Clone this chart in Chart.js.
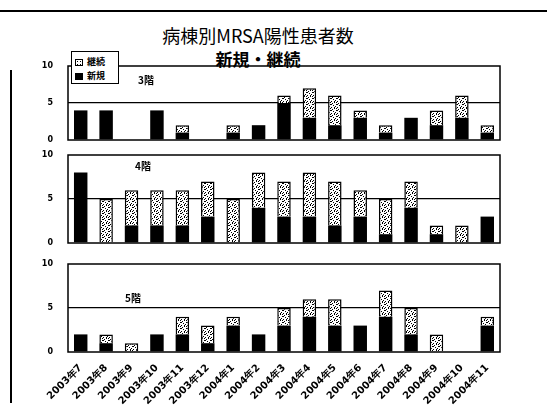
<!DOCTYPE html>
<html>
<head>
<meta charset="utf-8">
<script src="https://cdn.jsdelivr.net/npm/chart.js@4.4.1/dist/chart.umd.min.js"></script>
<style>
  body { margin: 0; background: #fff; }
  #page { position: relative; width: 547px; height: 411px; overflow: hidden; font-family: "Noto Sans CJK JP", sans-serif; }
  canvas { position: absolute; left: 0; }
  .rule-top { position: absolute; left: 0; top: 10px; width: 547px; height: 2px; background: #000; }
  .rule-left { position: absolute; left: 10px; top: 70px; width: 2px; height: 333px; background: #000; }
  .title { position: absolute; left: 0; width: 516px; text-align: center; color: #000; white-space: nowrap; }
  .panel-label { position: absolute; font-size: 10px; font-weight: bold; line-height: 12px; z-index: 2; }
  #legend { position: absolute; left: 71px; top: 51px; width: 46px; height: 31px; border: 1.5px solid #000; background: #fff; z-index: 3; font-size: 9px; font-weight: bold; line-height: 11px; }
  #legend div { position: absolute; left: 3px; white-space: nowrap; }
  #legend span.sw { display: inline-block; width: 8px; height: 7px; border: 1px solid #000; margin-right: 4px; vertical-align: -1px; box-sizing: border-box; }
</style>
</head>
<body>
<div id="page">
  <div class="rule-top"></div>
  <div class="rule-left"></div>
  <div class="title" style="top:22px; font-size:18px;">病棟別MRSA陽性患者数</div>
  <div class="title" style="top:46px; font-size:17px; font-weight:bold; width:516px;">新規・継続</div>

  <div id="legend">
    <div style="top:4px;"><span class="sw" style="background: radial-gradient(circle, #000 35%, transparent 40%) 0 0/3px 3px, #fff;"></span>継続</div>
    <div style="top:18px;"><span class="sw" style="background:#000;"></span>新規</div>
  </div>
  <div class="panel-label" style="left:138px; top:74px;">3階</div>
  <div class="panel-label" style="left:135px; top:160px;">4階</div>
  <div class="panel-label" style="left:125px; top:292px;">5階</div>

  <canvas id="floor3" width="547" height="92" style="top:56px;"></canvas>
  <canvas id="floor4" width="547" height="104" style="top:147px;"></canvas>
  <canvas id="floor5" width="547" height="155" style="top:256px;"></canvas>
</div>

<script>
// Months on the x axis
const months = ['2003年7', '2003年8', '2003年9', '2003年10', '2003年11', '2003年12',
  '2004年1', '2004年2', '2004年3', '2004年4', '2004年5', '2004年6',
  '2004年7', '2004年8', '2004年9', '2004年10', '2004年11'];

// 3階: new (新規) and continuing (継続) patients
const new3  = [4, 4, 0, 4, 1, 0, 1, 2, 5, 3, 2, 3, 1, 3, 2, 3, 1];
const cont3 = [0, 0, 0, 0, 1, 0, 1, 0, 1, 4, 4, 1, 1, 0, 2, 3, 1];

// 4階
const new4  = [8, 0, 2, 2, 2, 3, 0, 4, 3, 3, 2, 3, 1, 4, 1, 0, 3];
const cont4 = [0, 5, 4, 4, 4, 4, 5, 4, 4, 5, 5, 3, 4, 3, 1, 2, 0];

// 5階
const new5  = [2, 1, 0, 2, 2, 1, 3, 2, 3, 4, 3, 3, 4, 2, 0, 0, 3];
const cont5 = [0, 1, 1, 0, 2, 2, 1, 0, 2, 2, 3, 0, 3, 3, 2, 0, 1];

// Y axis ticks shared by all three panels
const yTicks = [0, 5, 10];

// Speckled fill for the 継続 part of the bars
function makeSpeckle() {
    const c = document.createElement('canvas');
    c.width = 6;
    c.height = 6;
    const g = c.getContext('2d');
    g.fillStyle = '#fff';
    g.fillRect(0, 0, 6, 6);
    g.fillStyle = '#000';
    [[0, 0], [3, 1], [1, 3], [4, 4], [5, 2], [2, 5], [1, 0], [4, 3], [0, 4]].forEach(function(p) {
        g.fillRect(p[0], p[1], 1, 1);
    });
    return g.createPattern(c, 'repeat');
}
const speckle = makeSpeckle();

// Box round each plot area
const framePlugin = {
    id: 'frame',
    afterDraw(chart) {
        const ctx = chart.ctx;
        const a = chart.chartArea;
        ctx.save();
        ctx.strokeStyle = '#000';
        ctx.lineWidth = 1.5;
        ctx.strokeRect(a.left, a.top, a.right - a.left, a.bottom - a.top);
        ctx.restore();
    }
};

// zero means no bar at all
function noZero(arr) {
    return arr.map(v => v === 0 ? null : v);
}

function makeChart(id, newData, contData, padTop, padBottom, showMonths) {
    const ctx = document.getElementById(id).getContext('2d');
    const xAxis = {
        stacked: true,
        display: showMonths,
        grid: { display: false },
        border: { display: false },
        ticks: {
            display: showMonths,
            color: '#000',
            font: { family: 'DejaVu Sans', size: 10, weight: 'bold' },
            minRotation: 45,
            maxRotation: 45,
            autoSkip: false,
            padding: 2
        },
        // month labels get a fixed band under the last panel
        afterFit(scale) { scale.height = showMonths ? 59 : 0; }
    };
    return new Chart(ctx, {
        type: 'bar',
        data: {
            labels: months,
            datasets: [{
                label: '新規',
                data: noZero(newData),
                backgroundColor: '#000',
                borderColor: '#000',
                borderWidth: 0,
                barPercentage: 0.53,
                categoryPercentage: 1
            }, {
                label: '継続',
                data: noZero(contData),
                backgroundColor: speckle,
                borderColor: '#000',
                borderWidth: 1.5,
                barPercentage: 0.53,
                categoryPercentage: 1
            }]
        },
        options: {
            responsive: false,
            animation: false,
            events: [],
            layout: { padding: { top: padTop, bottom: padBottom, left: 0, right: 47 } },
            plugins: { legend: { display: false }, tooltip: { enabled: false } },
            scales: {
                x: xAxis,
                y: {
                    stacked: true,
                    min: 0,
                    max: 10,
                    afterBuildTicks(scale) { scale.ticks = yTicks.map(v => ({ value: v })); },
                    grid: {
                        drawTicks: true,
                        tickLength: 12,
                        tickColor: 'transparent',
                        lineWidth: 1.3,
                        color: c => c.tick && c.tick.value === 5 ? '#000' : 'transparent'
                    },
                    border: { display: false },
                    ticks: {
                        color: '#000',
                        padding: 3,
                        font: { family: 'DejaVu Sans', size: 8, weight: 'bold' }
                    },
                    afterFit(scale) { scale.width = 68; }
                }
            }
        },
        plugins: [framePlugin]
    });
}

makeChart('floor3', new3, cont3, 10, 8, false);
makeChart('floor4', new4, cont4, 8, 8, false);
makeChart('floor5', new5, cont5, 8, 0, true);
</script>
</body>
</html>
